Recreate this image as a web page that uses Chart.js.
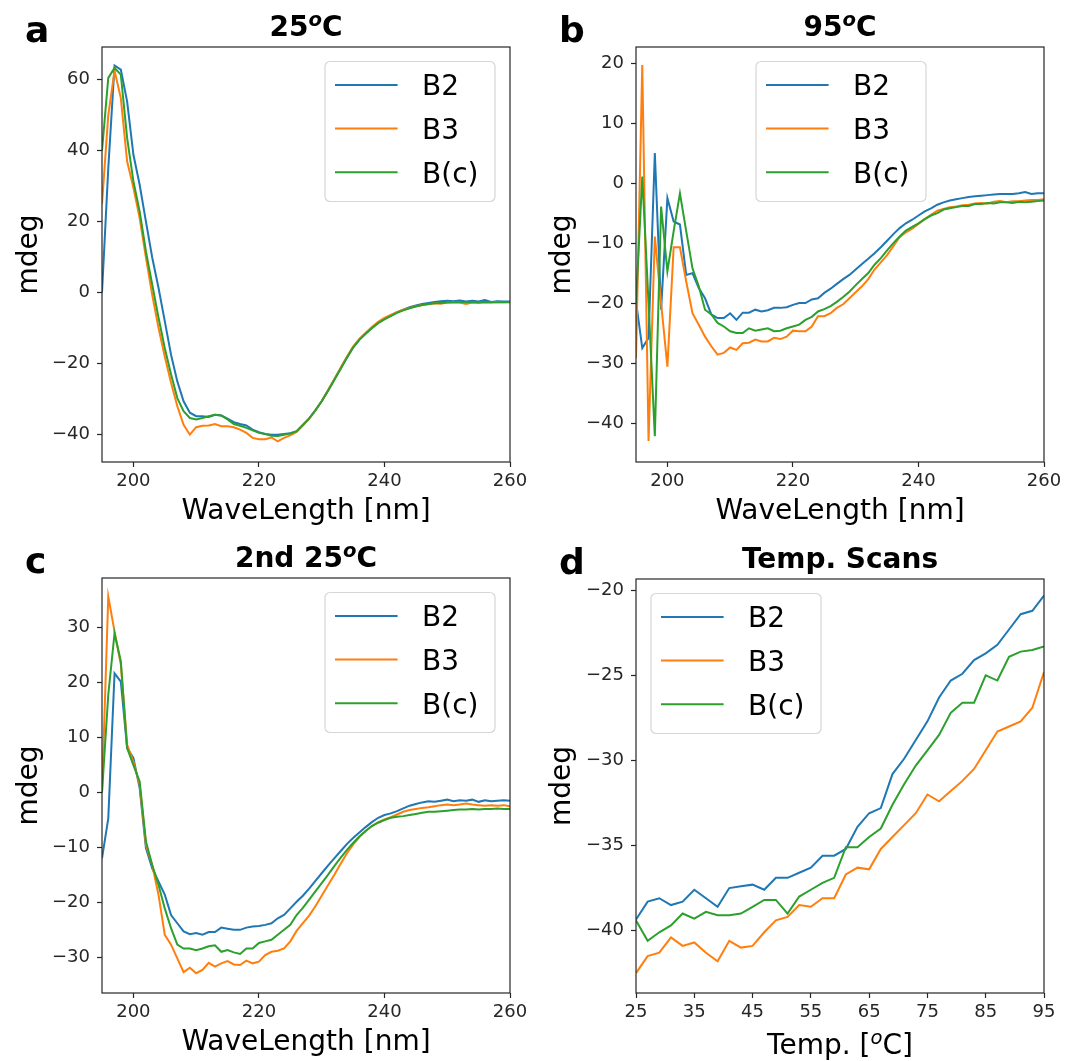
<!DOCTYPE html>
<html>
<head>
<meta charset="utf-8">
<script src="https://cdn.jsdelivr.net/npm/chart.js@4.4.0/dist/chart.umd.min.js"></script>
<style>
  body { margin: 0; background: #fff; width: 1066px; height: 1061px; position: relative; overflow: hidden; }
  canvas { position: absolute; }
</style>
</head>
<body>
<canvas id="panelA" width="533" height="530" style="left:0;top:0"></canvas>
<canvas id="panelB" width="533" height="530" style="left:533px;top:0"></canvas>
<canvas id="panelC" width="533" height="531" style="left:0;top:530px"></canvas>
<canvas id="panelD" width="533" height="531" style="left:533px;top:530px"></canvas>
<script>
// wavelength axis shared by panels a, b, c
const waveLength = [195, 196, 197, 198, 199, 200, 201, 202, 203, 204, 205, 206, 207, 208, 209, 210, 211, 212, 213, 214, 215, 216, 217, 218, 219, 220, 221, 222, 223, 224, 225, 226, 227, 228, 229, 230, 231, 232, 233, 234, 235, 236, 237, 238, 239, 240, 241, 242, 243, 244, 245, 246, 247, 248, 249, 250, 251, 252, 253, 254, 255, 256, 257, 258, 259, 260];
const seriesNames = ['B2', 'B3', 'B(c)'];

// a: 25 C
const a25B2 = [0, 35, 64, 62.8, 53.9, 38.9, 30.4, 20, 9.9, 1.4, -8, -17.5, -25, -30.6, -33.8, -34.8, -34.8, -35, -34.4, -34.6, -35.5, -36.5, -37, -37.4, -38.6, -39.3, -39.8, -40, -40, -39.8, -39.6,
  -39, -37.2, -35.4, -33.1, -30.5, -27.6, -24.5, -21.4, -18.3, -15.4, -13.2, -11.5, -9.9, -8.4, -7.3, -6.4, -5.5, -4.8, -4.1, -3.6, -3.2, -2.9, -2.6, -2.4, -2.3, -2.4, -2.2, -2.5, -2.3, -2.5, -2.1, -2.6, -2.4, -2.5, -2.5];
const a25B3 = [25, 50, 62.5, 54.8, 37, 29.6, 21, 9.9, -0.6, -9.9, -18, -25.4, -32, -37.2, -40, -37.9, -37.5, -37.4, -37, -37.6, -37.6, -37.9, -38.6, -39.5, -40.9, -41.3, -41.3, -40.8, -41.9, -40.9, -40.2,
  -39.2, -37.4, -35.5, -33.2, -30.6, -27.5, -24.4, -21.2, -18.1, -15.2, -13, -11.3, -9.7, -8.2, -7.1, -6.3, -5.5, -4.8, -4.3, -3.8, -3.5, -3.3, -3, -3.1, -2.8, -2.7, -2.8, -3.2, -2.8, -2.9, -2.7, -2.8, -2.6, -2.7, -2.6];
const a25Bc = [40, 60.5, 63.3, 61.4, 43.6, 31.4, 22.9, 11.6, 2.3, -7, -15.6, -23, -29.7, -33.4, -35.3, -35.7, -35.3, -34.8, -34.4, -34.6, -35.7, -37, -37.5, -38.1, -38.8, -39.5, -39.8, -40.3, -40.4, -40, -39.7,
  -39.1, -37.3, -35.5, -33.2, -30.6, -27.7, -24.6, -21.5, -18.4, -15.5, -13.3, -11.6, -10, -8.6, -7.5, -6.6, -5.7, -5, -4.4, -3.9, -3.5, -3.2, -3, -2.9, -2.8, -2.7, -2.7, -2.6, -2.7, -2.7, -2.6, -2.7, -2.7, -2.6, -2.7];

// b: 95 C
const b95B2 = [-19.7, -27.5, -25.8, 5, -21.1, -2.5, -6.4, -6.9, -15.3, -15, -17.5, -19.2, -21.9, -22.5, -22.5, -21.7, -22.8, -21.6, -21.6, -21.1, -21.4, -21.2, -20.8, -20.8, -20.7, -20.3, -20, -20, -19.4, -19.2, -18.3,
  -17.6, -16.8, -16, -15.3, -14.4, -13.5, -12.6, -11.7, -10.7, -9.6, -8.5, -7.5, -6.7, -6.1, -5.4, -4.7, -4.2, -3.6, -3.2, -2.9, -2.7, -2.5, -2.3, -2.2, -2.1, -2, -1.9, -1.8, -1.8, -1.8, -1.7, -1.5, -1.8, -1.7, -1.7];
const b95B3 = [-29.2, 19.7, -43, -8.9, -20, -30.6, -10.7, -10.7, -16.4, -21.7, -23.6, -25.6, -27.2, -28.6, -28.3, -27.4, -27.8, -26.7, -26.6, -26.1, -26.4, -26.4, -25.8, -26, -25.6, -24.6, -24.7, -24.7, -23.9, -22.2, -22.2,
  -21.7, -20.8, -20.2, -19.2, -18.2, -17.2, -16, -14.4, -13.2, -12, -10.5, -9, -8.2, -7.6, -6.8, -6, -5.3, -4.6, -4.3, -4, -3.9, -3.7, -3.6, -3.4, -3.3, -3.4, -3.1, -3, -3.2, -3, -3, -2.9, -2.8, -2.8, -2.7];
const b95Bc = [-20, 1.1, -20, -42.2, -3.9, -14.7, -8, -1.7, -8, -14.2, -17.2, -21.1, -21.9, -23.3, -23.9, -24.7, -25, -25, -24.2, -24.6, -24.4, -24.2, -24.7, -24.6, -24.2, -23.9, -23.6, -22.8, -22.3, -21.4, -21,
  -20.5, -19.8, -19, -18.1, -17, -16, -15, -13.6, -12.5, -11.2, -10, -8.9, -7.9, -7.3, -6.7, -6, -5.4, -5, -4.4, -4.2, -4, -3.8, -3.8, -3.5, -3.5, -3.3, -3.4, -3.2, -3.2, -3.3, -3.1, -3.2, -3.1, -3, -2.9];

// c: 2nd 25 C
const c25B2 = [-12, -4.7, 21.7, 20.2, 8.1, 6.3, 0.8, -10.1, -13.8, -16.2, -18.6, -22.3, -23.8, -25.3, -25.8, -25.6, -25.9, -25.4, -25.4, -24.6, -24.8, -25, -25, -24.6, -24.4, -24.3, -24.1, -23.8, -22.9, -22.3, -21.1,
  -19.9, -18.8, -17.5, -16.1, -14.7, -13.3, -12, -10.7, -9.4, -8.3, -7.3, -6.3, -5.4, -4.6, -4.1, -3.8, -3.4, -2.9, -2.4, -2.1, -1.8, -1.6, -1.7, -1.5, -1.3, -1.6, -1.4, -1.5, -1.3, -1.7, -1.4, -1.6, -1.5, -1.4, -1.5];
const c25B3 = [0, 35.7, 29.3, 23.3, 8.7, 5.6, 1.4, -9.5, -13.2, -18.6, -25.9, -27.7, -30.2, -32.7, -31.9, -32.9, -32.3, -31, -31.7, -31.1, -30.7, -31.3, -31.4, -30.6, -31.1, -30.8, -29.6, -29, -28.8, -28.4, -27.1,
  -25.2, -23.8, -22.4, -20.7, -18.8, -16.9, -15, -13, -11.1, -9.5, -8.1, -7, -6.1, -5.4, -4.9, -4.5, -4, -3.5, -3.2, -3, -2.8, -2.7, -2.5, -2.3, -2.2, -2.3, -2.2, -2, -2.2, -2.3, -2.4, -2.3, -2.4, -2.3, -2.5];
const c25Bc = [0, 17.8, 29, 23.9, 8.1, 5, 2, -8.9, -13.2, -16.8, -21.1, -24.7, -27.7, -28.4, -28.4, -28.7, -28.4, -28, -27.8, -29, -28.7, -29.1, -29.4, -28.4, -28.4, -27.4, -27.1, -26.8, -25.9, -25, -24.1,
  -22.3, -21, -19.5, -18, -16.5, -15, -13.4, -11.9, -10.5, -9.2, -8, -7, -6.1, -5.5, -5, -4.6, -4.4, -4.3, -4.1, -3.9, -3.7, -3.5, -3.5, -3.4, -3.3, -3.2, -3.1, -3.1, -3, -3.1, -3, -3, -2.9, -3, -3];

// d: temperature scans
const tempC = [25, 27, 29, 31, 33, 35, 37, 39, 41, 43, 45, 47, 49, 51, 53, 55, 57, 59, 61, 63, 65, 67, 69, 71, 73, 75, 77, 79, 81, 83, 85, 87, 89, 91, 93, 95];
const dB2 = [-39.35, -38.3, -38.1, -38.5, -38.3, -37.6, -38.1, -38.6, -37.5, -37.4, -37.3, -37.6, -36.9, -36.9, -36.6, -36.3, -35.6, -35.6, -35.2, -33.9, -33.1, -32.8, -30.8, -29.9, -28.8, -27.7, -26.3, -25.3, -24.9, -24.1, -23.7, -23.2, -22.3, -21.4, -21.2, -20.3];
const dB3 = [-42.5, -41.5, -41.3, -40.4, -40.9, -40.7, -41.3, -41.8, -40.6, -41, -40.9, -40.1, -39.4, -39.2, -38.5, -38.6, -38.1, -38.1, -36.7, -36.3, -36.4, -35.2, -34.5, -33.8, -33.1, -32, -32.4, -31.8, -31.2, -30.5, -29.4, -28.3, -28, -27.7, -26.9, -24.8];
const dBc = [-39.4, -40.6, -40.1, -39.7, -39, -39.3, -38.9, -39.1, -39.1, -39, -38.6, -38.2, -38.2, -39, -38, -37.6, -37.2, -36.9, -35.1, -35.1, -34.5, -34, -32.6, -31.4, -30.3, -29.4, -28.5, -27.2, -26.6, -26.6, -25, -25.3, -23.9, -23.6, -23.5, -23.3];

// tick labels
const waveTicks = [200, 220, 240, 260];
const tempTicks = [25, 35, 45, 55, 65, 75, 85, 95];
const yTicksA = [-40, -20, 0, 20, 40, 60];
const yTicksB = [-40, -30, -20, -10, 0, 10, 20];
const yTicksC = [-30, -20, -10, 0, 10, 20, 30];
const yTicksD = [-40, -35, -30, -25, -20];

const colors = ['#1f77b4', '#ff7f0e', '#2ca02c'];
const ink = '#262626';

// text with a mathtext-like superscript: '^o' marks a raised italic part
function drawRich(ctx, parts, cx, baseline, size, bold) {
  const w = bold ? 'bold ' : '';
  const fontFor = p => p[0] === '^'
    ? 'italic ' + w + (size * 0.7) + 'px "DejaVu Sans"'
    : w + size + 'px "DejaVu Sans"';
  let total = 0;
  parts.forEach(p => { ctx.font = fontFor(p); total += ctx.measureText(p.replace('^', '')).width; });
  let x = cx - total / 2;
  ctx.textAlign = 'left';
  ctx.textBaseline = 'alphabetic';
  parts.forEach(p => {
    ctx.font = fontFor(p);
    const t = p.replace('^', '');
    ctx.fillText(t, x, p[0] === '^' ? baseline - size * 0.34 : baseline);
    x += ctx.measureText(t).width;
  });
}

// frame, title, panel letter and in-axes legend (matplotlib style)
const panelDecor = {
  id: 'panelDecor',
  afterDraw(chart, args, opts) {
    const { ctx, chartArea: a } = chart;
    ctx.save();
    ctx.strokeStyle = ink;
    ctx.lineWidth = 1.2;
    ctx.strokeRect(a.left, a.top, a.right - a.left, a.bottom - a.top);

    ctx.fillStyle = '#000';
    drawRich(ctx, opts.title, (a.left + a.right) / 2, a.top - 11, 28, true);
    if (opts.xTitle) drawRich(ctx, opts.xTitle, (a.left + a.right) / 2, a.bottom + 61, 28, false);
    ctx.font = 'bold 36px "DejaVu Sans"';
    ctx.fillText(opts.letter, a.left - 77, a.top - 5.5);

    const w = 170, h = 140;
    let x = a.left + 15;
    if (opts.legend === 'right') x = a.right - 15 - w;
    if (opts.legend === 'center') x = (a.left + a.right) / 2 - w / 2 + 1;
    const y = a.top + 14.5;
    ctx.fillStyle = 'rgba(255,255,255,0.8)';
    ctx.strokeStyle = '#d6d6d6';
    ctx.lineWidth = 1.2;
    ctx.beginPath();
    ctx.roundRect(x, y, w, h, 5);
    ctx.fill();
    ctx.stroke();

    ctx.font = '28px "DejaVu Sans"';
    chart.data.datasets.forEach((ds, i) => {
      const ly = y + 23.4 + i * 43.7;
      ctx.strokeStyle = ds.borderColor;
      ctx.lineWidth = 2;
      ctx.beginPath();
      ctx.moveTo(x + 10, ly);
      ctx.lineTo(x + 72.6, ly);
      ctx.stroke();
      ctx.fillStyle = '#000';
      ctx.fillText(ds.label, x + 97, ly + 10.2);
    });
    ctx.restore();
  }
};

const minus = v => String(v).replace('-', '\u2212');

function makePanel(id, p) {
  const datasets = p.series.map((vals, i) => ({
    label: seriesNames[i],
    data: p.xs.map((x, j) => ({ x: x, y: vals[j] })),
    borderColor: colors[i],
    borderWidth: 2,
    pointRadius: 0,
    tension: 0,
    fill: false,
    order: 3 - i
  }));
  const tickFont = { size: 18, family: 'DejaVu Sans' };
  const titleFont = { size: 28, family: 'DejaVu Sans' };
  new Chart(document.getElementById(id), {
    type: 'line',
    data: { datasets: datasets },
    options: {
      responsive: false,
      animation: false,
      layout: { padding: { top: p.padTop, right: p.padRight, left: 0, bottom: 0 } },
      scales: {
        x: {
          type: 'linear',
          min: p.xMin,
          max: p.xMax,
          afterBuildTicks: s => { s.ticks = p.xTicks.map(v => ({ value: v })); },
          afterFit: s => { s.height = 68; },
          grid: { drawOnChartArea: false, tickLength: 5, tickColor: ink, tickWidth: 1.2 },
          border: { display: false },
          ticks: { font: tickFont, color: ink, padding: 4, maxRotation: 0, autoSkip: false, callback: minus },
          title: { display: !!p.xTitle, text: p.xTitle || '', font: titleFont, color: '#000', padding: { top: 0, bottom: 1 } }
        },
        y: {
          min: p.yMin,
          max: p.yMax,
          afterBuildTicks: s => { s.ticks = p.yTicks.map(v => ({ value: v })); },
          afterFit: s => { s.width = p.yWidth; },
          grid: { drawOnChartArea: false, tickLength: 5, tickColor: ink, tickWidth: 1.2 },
          border: { display: false },
          ticks: { font: tickFont, color: ink, padding: 7, autoSkip: false, callback: minus },
          title: { display: true, text: 'mdeg', font: titleFont, color: '#000', padding: { top: 13, bottom: 0 } }
        }
      },
      plugins: {
        legend: { display: false },
        tooltip: { enabled: false },
        panelDecor: { title: p.title, xTitle: p.richXTitle, letter: p.letter, legend: p.legend }
      }
    },
    plugins: [panelDecor]
  });
}

makePanel('panelA', {
  xs: waveLength, series: [a25B2, a25B3, a25Bc], xTicks: waveTicks, yTicks: yTicksA,
  xMin: 195, xMax: 260, yMin: -47.7, yMax: 69.2, xTitle: 'WaveLength [nm]',
  title: ['25', '^o', 'C'], letter: 'a', legend: 'right', padTop: 47, padRight: 23, yWidth: 102
});
makePanel('panelB', {
  xs: waveLength, series: [b95B2, b95B3, b95Bc], xTicks: waveTicks, yTicks: yTicksB,
  xMin: 195, xMax: 260, yMin: -46.5, yMax: 22.7, xTitle: 'WaveLength [nm]',
  title: ['95', '^o', 'C'], letter: 'b', legend: 'center', padTop: 47, padRight: 22, yWidth: 103
});
makePanel('panelC', {
  xs: waveLength, series: [c25B2, c25B3, c25Bc], xTicks: waveTicks, yTicks: yTicksC,
  xMin: 195, xMax: 260, yMin: -36.5, yMax: 39.05, xTitle: 'WaveLength [nm]',
  title: ['2nd 25', '^o', 'C'], letter: 'c', legend: 'right', padTop: 48, padRight: 23, yWidth: 102
});
makePanel('panelD', {
  xs: tempC, series: [dB2, dB3, dBc], xTicks: tempTicks, yTicks: yTicksD,
  xMin: 25, xMax: 95, yMin: -43.67, yMax: -19.33, richXTitle: ['Temp. [', '^o', 'C]'],
  title: ['Temp. Scans'], letter: 'd', legend: 'left', padTop: 49, padRight: 22, yWidth: 103
});
</script>
</body>
</html>
